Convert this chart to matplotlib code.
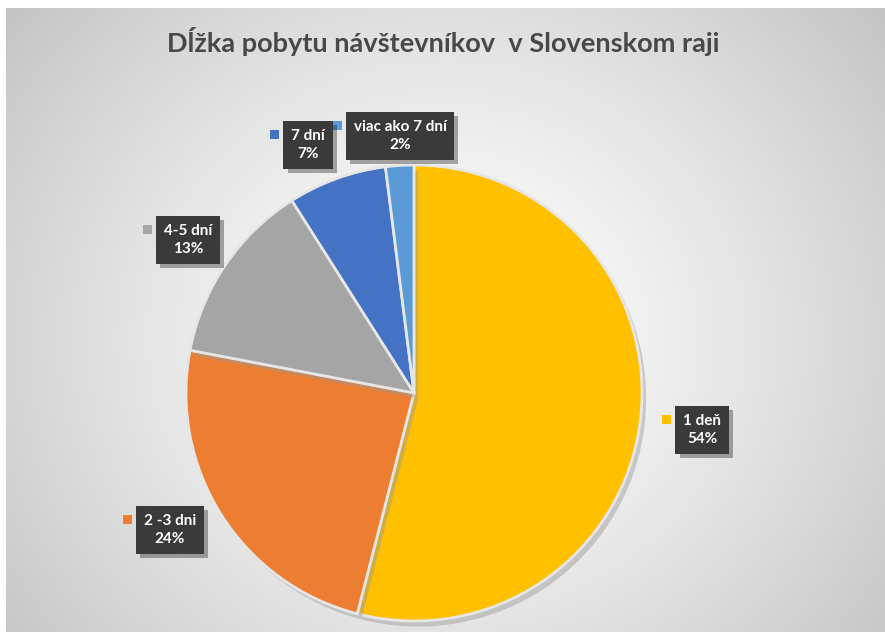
import numpy as np
import matplotlib
matplotlib.use("Agg")
import matplotlib.pyplot as plt
import matplotlib.patheffects as pe
from matplotlib.patches import Rectangle

categories = ["1 deň", "2 -3 dni", "4-5 dní", "7 dní", "viac ako 7 dní"]
values = [54, 24, 13, 7, 2]
pct_labels = ["54%", "24%", "13%", "7%", "2%"]
colors = ["#FFC000", "#ED7D31", "#A5A5A5", "#4472C4", "#5B9BD5"]
title = "Dĺžka pobytu návštevníkov  v Slovenskom raji"

W, H = 885, 632
fig = plt.figure(figsize=(W / 100, H / 100), dpi=100)
fig.patch.set_facecolor("white")

# background radial gradient (chart area)
bg = fig.add_axes([6 / W, 0, 1 - 6 / W, 1 - 8 / H])
bg.set_axis_off()
yy, xx = np.mgrid[0:H - 8, 0:W - 6]
cx, cy = 440, 330
r = np.sqrt(((xx - cx) / 560.0) ** 2 + ((yy - cy) / 520.0) ** 2)
g = 1.0 - 0.23 * np.clip(r, 0, 1) ** 1.3
img = np.dstack([g, g, g])
bg.imshow(img, aspect="auto", extent=[0, 1, 0, 1], origin="upper")
bg.set_xlim(0, 1)
bg.set_ylim(0, 1)

fig.text(443 / W, 1 - 42 / H, title, ha="center", va="center",
         fontsize=19.5, fontweight="bold", color="#484848",
         family=["Lato", "DejaVu Sans"])

# pie axes
pcx, pcy, rad = 414, 393, 228
ax = fig.add_axes([(pcx - rad) / W, (H - pcy - rad) / H, 2 * rad / W, 2 * rad / H])
ax.set_facecolor("none")
wedges, _ = ax.pie(values, colors=colors, startangle=90, counterclock=False,
                   wedgeprops=dict(edgecolor="#e6e6e6", linewidth=2.0))
for w in wedges:
    w.set_path_effects([pe.SimplePatchShadow(offset=(3, -4), shadow_rgbFace="#999999", alpha=0.45),
                        pe.Normal()])
ax.set_aspect("equal")
ax.set_xlim(-1, 1)
ax.set_ylim(-1, 1)
ax.set_axis_off()

# label positions (pixel centers of boxes)
label_pos = [(702, 430), (170, 530), (188, 240), (308, 145), (400, 136)]
for cat, pct, col, (lx, ly) in zip(categories, pct_labels, colors, label_pos):
    t = fig.text(lx / W, 1 - ly / H, f"{cat}\n{pct}", ha="center", va="center",
                 fontsize=11, fontweight="bold", color="white", linespacing=1.45,
                 family=["Lato", "DejaVu Sans"],
                 bbox=dict(boxstyle="square,pad=0.5", facecolor="#3a3a3a", edgecolor="none"))
    t.get_bbox_patch().set_path_effects([pe.SimplePatchShadow(offset=(3, -3), alpha=0.35),
                                         pe.Normal()])
    fig.canvas.draw()
    bb = t.get_bbox_patch().get_window_extent()
    sq = 9
    fig.add_artist(Rectangle(((bb.x0 - 13) / W, (bb.y1 - 18) / H), sq / W, sq / H,
                             transform=fig.transFigure, facecolor=col, edgecolor="none"))

fig.savefig("out.png", dpi=100)
